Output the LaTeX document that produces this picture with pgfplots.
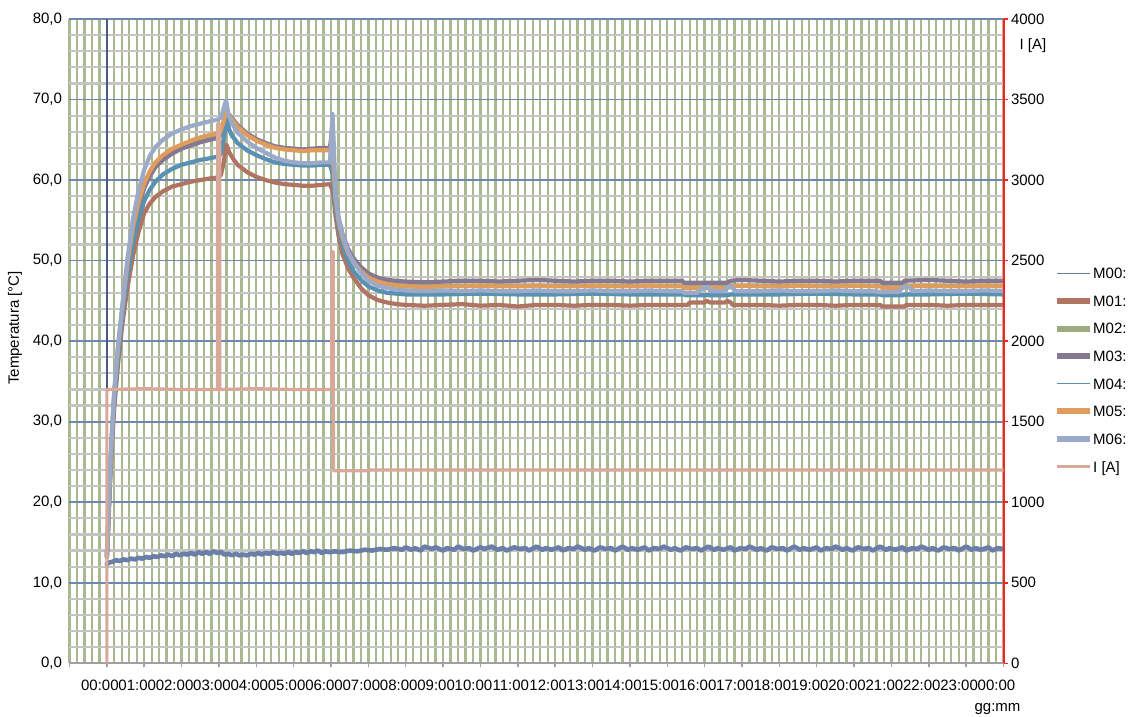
\documentclass[border=0pt]{standalone}
\usepackage{fontspec}
\setmainfont{Liberation Sans}
\usepackage{pgfplots}
\pgfplotsset{compat=1.18}

\definecolor{cM00}{HTML}{6A7EA8}
\definecolor{cM00leg}{HTML}{6B7896}
\definecolor{cM01}{HTML}{B07462}
\definecolor{cM02}{HTML}{9CAC80}
\definecolor{cM03}{HTML}{877891}
\definecolor{cM04}{HTML}{5A90B2}
\definecolor{cM05}{HTML}{E09C5C}
\definecolor{cM06}{HTML}{9AAAC8}
\definecolor{cI}{HTML}{D8A898}
\definecolor{gridgreen}{HTML}{AAB890}
\definecolor{gridgray}{HTML}{C4C4C4}
\definecolor{gridblue}{HTML}{7088B0}
\definecolor{zeroline}{HTML}{4A5A80}
\definecolor{axisgray}{HTML}{A0A0A0}
\definecolor{axisred}{HTML}{FF2020}

\newcommand{\tickfont}{\fontsize{15}{18}\selectfont}

\begin{document}
\begin{tikzpicture}
\useasboundingbox (-69.5pt,-52.7pt) rectangle (1058.5pt,663.3pt);

% temperatures (left axis)
\begin{axis}[
  at={(0pt,0pt)}, anchor=south west,
  scale only axis, width=934pt, height=644.3pt,
  xmin=-1, xmax=24, ymin=0, ymax=80,
  axis x line*=bottom, axis y line*=left,
  x axis line style={draw=axisgray, line width=2pt, -},
  y axis line style={draw=none, -},
  xtick={-1,0,...,24},
  xticklabels={,00:00,01:00,02:00,03:00,04:00,05:00,06:00,07:00,08:00,09:00,10:00,11:00,12:00,13:00,14:00,15:00,16:00,17:00,18:00,19:00,20:00,21:00,22:00,23:00,00:00},
  minor x tick num=4,
  ytick={0,10,...,80},
  yticklabels={{0,0},{10,0},{20,0},{30,0},{40,0},{50,0},{60,0},{70,0},{80,0}},
  minor y tick num=4,
  grid=both,
  major x grid style={gridgreen, line width=2.3pt},
  minor x grid style={gridgreen, line width=2.3pt},
  major y grid style={gridblue, line width=1.7pt},
  minor y grid style={gridgray, line width=2.2pt},
  tick align=outside,
  major tick length=4pt, minor tick length=0pt,
  xtick style={axisgray, line width=1.5pt},
  ytick style={draw=none},
  xticklabel style={font=\tickfont, anchor=base, xshift=-7pt, yshift=-23pt},
  yticklabel style={font=\tickfont},
  extra x ticks={0}, extra x tick labels={},
  extra x tick style={grid=major, major x grid style={zeroline, line width=2.4pt}, xtick style={draw=none}},
  xlabel={gg:mm},
  every axis x label/.style={at={(axis description cs:0.9936,-0.0745)}, anchor=base, font=\tickfont},
  ylabel={Temperatura [°C]},
  every axis y label/.style={at={(axis description cs:-0.0584,0.5204)}, anchor=center, rotate=90, font=\tickfont},
  every axis plot/.append style={line join=round, line cap=round},
]

% M00 ambient
\addplot[cM00, line width=4.6pt] coordinates {
(0.00,12.3)(0.05,12.5)(0.15,12.6)(0.25,12.8)(0.35,12.7)(0.45,12.9)(0.55,12.8)(0.65,13.0)(0.75,12.9)(0.85,13.1)
(0.95,13.0)(1.05,13.2)(1.15,13.1)(1.25,13.3)(1.35,13.2)(1.45,13.4)(1.55,13.3)(1.65,13.5)(1.75,13.3)(1.85,13.6)
(1.95,13.4)(2.05,13.6)(2.15,13.5)(2.25,13.7)(2.35,13.5)(2.45,13.8)(2.55,13.6)(2.65,13.8)(2.75,13.6)(2.85,13.9)
(2.95,13.7)(3.05,13.8)(3.15,13.5)(3.25,13.6)(3.35,13.4)(3.45,13.6)(3.55,13.4)(3.65,13.5)(3.75,13.4)(3.85,13.6)
(3.95,13.5)(4.05,13.7)(4.15,13.5)(4.25,13.7)(4.35,13.6)(4.45,13.8)(4.55,13.6)(4.65,13.7)(4.75,13.6)(4.85,13.8)
(4.95,13.6)(5.05,13.8)(5.15,13.7)(5.25,13.9)(5.35,13.7)(5.45,13.9)(5.55,13.8)(5.65,14.0)(5.75,13.7)(5.85,13.9)
(5.95,13.8)(6.10,13.9)(6.30,13.8)(6.50,14.0)(6.70,13.9)(6.90,14.1)(7.10,14.0)(7.30,14.2)(7.50,14.1)(7.70,14.3)
(7.90,14.1)(8.0,14.4)(8.15,14.1)(8.25,14.3)(8.4,14.0)(8.5,14.5)(8.7,14.2)(8.8,14.4)(9.0,14.0)(9.1,14.3)
(9.3,14.1)(9.4,14.5)(9.55,14.2)(9.7,14.3)(9.8,14.0)(10.0,14.4)(10.1,14.2)(10.3,14.5)(10.45,14.1)(10.6,14.3)
(10.7,14.0)(10.9,14.4)(11.05,14.2)(11.2,14.3)(11.3,14.0)(11.5,14.5)(11.65,14.1)(11.75,14.3)(11.9,14.1)(12.1,14.4)
(12.2,14.0)(12.35,14.3)(12.5,14.2)(12.6,14.5)(12.8,14.1)(12.9,14.3)(13.05,14.0)(13.2,14.4)(13.35,14.2)(13.5,14.3)
(13.6,14.0)(13.8,14.5)(13.95,14.1)(14.05,14.3)(14.2,14.1)(14.4,14.4)(14.5,14.0)(14.65,14.3)(14.8,14.2)(14.9,14.5)
(15.1,14.1)(15.2,14.3)(15.35,14.0)(15.5,14.4)(15.65,14.2)(15.8,14.3)(15.9,14.0)(16.1,14.5)(16.25,14.1)(16.35,14.3)
(16.5,14.1)(16.7,14.4)(16.8,14.0)(16.95,14.3)(17.1,14.2)(17.2,14.5)(17.4,14.1)(17.5,14.3)(17.65,14.0)(17.8,14.4)
(17.95,14.2)(18.1,14.3)(18.2,14.0)(18.4,14.5)(18.55,14.1)(18.65,14.3)(18.8,14.1)(19.0,14.4)(19.1,14.0)(19.25,14.3)
(19.4,14.2)(19.5,14.5)(19.7,14.1)(19.8,14.3)(19.95,14.0)(20.1,14.4)(20.25,14.2)(20.4,14.3)(20.5,14.0)(20.7,14.5)
(20.85,14.1)(20.95,14.3)(21.1,14.1)(21.3,14.4)(21.4,14.0)(21.55,14.3)(21.7,14.2)(21.8,14.5)(22.0,14.1)(22.1,14.3)
(22.25,14.0)(22.4,14.4)(22.55,14.2)(22.7,14.3)(22.8,14.0)(23.0,14.5)(23.15,14.1)(23.25,14.3)(23.4,14.1)(23.6,14.4)
(23.7,14.0)(23.85,14.3)(24.0,14.2)
};

% M01
\addplot[cM01, line width=4.2pt] coordinates {
(0,13.2)(0.03,16.0)(0.06,19.4)(0.1,23.8)(0.15,28.0)(0.2,31.8)(0.3,37.2)(0.42,42.3)(0.55,46.6)(0.7,50.6)
(0.85,53.6)(1.0,55.9)(1.15,57.1)(1.3,57.9)(1.5,58.6)(1.75,59.2)(2.0,59.5)(2.25,59.8)(2.5,60.0)(2.75,60.2)
(2.95,60.3)(3.05,60.6)(3.12,62.0)(3.2,64.4)(3.28,63.4)(3.4,62.5)(3.5,61.9)(3.75,61.0)(4.0,60.4)(4.25,60.0)
(4.5,59.7)(4.75,59.5)(5.0,59.4)(5.25,59.3)(5.5,59.3)(5.75,59.4)(5.97,59.5)(6.05,58.6)(6.12,55.6)(6.2,53.1)
(6.3,50.9)(6.45,49.1)(6.6,47.9)(6.8,46.6)(7.0,45.7)(7.25,45.1)(7.5,44.8)(7.75,44.6)(8.0,44.5)(8.5,44.4)
(9.0,44.5)(9.5,44.6)(10.0,44.4)(10.5,44.5)(11.0,44.3)(11.5,44.5)(12.0,44.5)(12.5,44.4)(13.0,44.5)(13.5,44.5)
(14.0,44.4)(14.5,44.5)(15.0,44.5)(15.55,44.5)(15.6,44.8)(16.0,44.8)(16.05,45.0)(16.15,44.8)(16.55,44.8)(16.6,45.0)
(16.7,44.8)(16.75,44.5)(17.5,44.5)(18.0,44.4)(18.5,44.5)(19.0,44.5)(19.5,44.4)(20.0,44.5)(20.5,44.5)(20.7,44.5)
(20.75,44.3)(21.35,44.3)(21.4,44.5)(22.0,44.5)(22.5,44.4)(23.0,44.5)(23.5,44.5)(24.0,44.5)
};

% M02
\addplot[cM02, line width=4.2pt] coordinates {
(0,13.2)(0.1,25.0)(0.2,33.5)(0.3,39.0)(0.42,44.2)(0.55,49.4)(0.7,53.9)(0.85,57.0)(1.0,59.3)(1.3,61.9)
(1.5,62.8)(2.0,64.1)(2.5,65.0)(2.95,65.5)(3.05,65.8)(3.2,68.4)(3.4,67.3)(3.75,65.7)(4.0,65.0)(4.5,64.1)
(5.0,63.8)(5.5,63.8)(5.97,63.8)(6.05,62.6)(6.12,57.9)(6.2,55.0)(6.3,53.0)(6.45,51.1)(6.6,49.9)(6.8,48.8)
(7.0,48.0)(7.5,47.2)(8.0,46.9)(12.0,46.9)(15.4,46.9)(15.45,46.7)(16.6,46.7)(16.7,46.9)(20.7,46.9)(20.75,46.7)
(21.3,46.7)(21.35,46.9)(24.0,46.9)
};

% M03
\addplot[cM03, line width=4.2pt] coordinates {
(0,13.2)(0.03,16.6)(0.06,20.4)(0.1,24.9)(0.15,29.4)(0.2,33.4)(0.3,38.8)(0.42,44.0)(0.55,49.1)(0.7,53.6)
(0.85,56.7)(1.0,59.0)(1.15,60.5)(1.3,61.6)(1.5,62.5)(1.75,63.3)(2.0,63.9)(2.25,64.3)(2.5,64.7)(2.75,65.0)
(2.95,65.2)(3.05,65.5)(3.12,66.8)(3.2,68.3)(3.28,68.1)(3.4,67.4)(3.5,66.8)(3.75,65.8)(4.0,65.1)(4.25,64.6)
(4.5,64.2)(4.75,64.0)(5.0,63.9)(5.25,63.8)(5.5,63.9)(5.75,64.0)(5.97,64.0)(6.01,65.5)(6.04,67.2)(6.07,62.5)
(6.12,58.2)(6.2,55.4)(6.3,53.4)(6.45,51.5)(6.6,50.3)(6.8,49.2)(7.0,48.4)(7.25,47.9)(7.5,47.6)(7.75,47.5)
(8.0,47.4)(8.5,47.3)(9.0,47.4)(9.5,47.5)(10.0,47.5)(10.5,47.4)(11.0,47.5)(11.5,47.6)(12.0,47.5)(12.5,47.4)
(13.0,47.5)(13.5,47.5)(14.0,47.4)(14.5,47.5)(15.0,47.5)(15.4,47.5)(15.45,47.25)(16.6,47.25)(16.7,47.5)(17.0,47.6)
(17.5,47.5)(18.0,47.4)(18.5,47.5)(19.0,47.5)(19.5,47.4)(20.0,47.5)(20.5,47.5)(20.7,47.5)(20.75,47.25)(21.3,47.25)
(21.35,47.5)(22.0,47.6)(22.5,47.5)(23.0,47.4)(23.5,47.5)(24.0,47.5)
};

% M04
\addplot[cM04, line width=4.2pt] coordinates {
(0,13.2)(0.03,16.4)(0.06,20.0)(0.1,24.5)(0.15,28.9)(0.2,32.8)(0.3,38.2)(0.42,43.3)(0.55,48.0)(0.7,52.1)
(0.85,55.2)(1.0,57.4)(1.15,58.8)(1.3,59.8)(1.5,60.7)(1.75,61.4)(2.0,61.9)(2.25,62.2)(2.5,62.5)(2.75,62.7)
(2.95,62.9)(3.05,63.2)(3.12,64.9)(3.21,67.5)(3.28,66.2)(3.35,65.5)(3.5,64.6)(3.75,63.7)(4.0,63.1)(4.25,62.6)
(4.5,62.2)(4.75,62.0)(5.0,61.9)(5.25,61.8)(5.5,61.8)(5.75,61.9)(5.97,61.9)(6.05,60.7)(6.12,56.7)(6.2,54.2)
(6.3,52.0)(6.45,50.0)(6.6,48.7)(6.8,47.6)(7.0,46.8)(7.25,46.3)(7.5,46.0)(7.75,45.9)(8.0,45.8)(9.0,45.8)
(10.0,45.9)(11.0,45.8)(12.0,45.8)(13.0,45.9)(14.0,45.8)(15.0,45.8)(15.45,45.8)(15.5,45.7)(16.6,45.7)(16.7,45.8)
(18.0,45.8)(19.0,45.9)(20.0,45.8)(20.7,45.8)(20.75,45.7)(21.3,45.7)(21.35,45.8)(22.0,45.8)(23.0,45.9)(24.0,45.8)
};

% M05
\addplot[cM05, line width=4.2pt] coordinates {
(0,13.2)(0.03,16.8)(0.06,20.7)(0.1,25.2)(0.15,29.7)(0.2,33.7)(0.3,39.2)(0.42,44.4)(0.55,49.6)(0.7,54.2)
(0.85,57.3)(1.0,59.6)(1.15,61.1)(1.3,62.2)(1.5,63.1)(1.75,63.9)(2.0,64.4)(2.25,64.9)(2.5,65.3)(2.75,65.6)
(2.95,65.8)(3.05,66.1)(3.12,67.2)(3.2,68.6)(3.28,68.0)(3.4,67.2)(3.5,66.6)(3.75,65.6)(4.0,64.9)(4.25,64.4)
(4.5,64.0)(4.75,63.8)(5.0,63.7)(5.25,63.6)(5.5,63.7)(5.75,63.7)(5.97,63.7)(6.05,62.6)(6.12,57.8)(6.2,54.9)
(6.3,52.9)(6.45,51.0)(6.6,49.8)(6.8,48.7)(7.0,47.9)(7.25,47.4)(7.5,47.1)(7.75,46.9)(8.0,46.8)(8.5,46.7)
(9.0,46.8)(9.5,46.8)(10.0,46.9)(10.5,46.8)(11.0,46.8)(11.5,46.9)(12.0,46.8)(12.5,46.8)(13.0,46.9)(13.5,46.8)
(14.0,46.8)(14.5,46.9)(15.0,46.8)(15.4,46.8)(15.45,46.6)(16.6,46.6)(16.7,46.8)(17.0,46.9)(17.5,46.8)(18.0,46.8)
(18.5,46.9)(19.0,46.8)(19.5,46.8)(20.0,46.9)(20.5,46.8)(20.7,46.8)(20.75,46.6)(21.3,46.6)(21.35,46.8)(22.0,46.9)
(22.5,46.8)(23.0,46.8)(23.5,46.9)(24.0,46.8)
};

% M06
\addplot[cM06, line width=4.2pt] coordinates {
(0,13.2)(0.03,17.0)(0.06,21.0)(0.1,25.5)(0.15,30.0)(0.2,34.0)(0.3,39.5)(0.42,44.7)(0.55,50.2)(0.7,55.2)
(0.85,58.7)(1.0,61.3)(1.15,63.0)(1.3,64.1)(1.5,65.0)(1.75,65.8)(2.0,66.3)(2.25,66.7)(2.5,67.0)(2.75,67.3)
(2.95,67.5)(3.05,67.7)(3.12,68.8)(3.19,69.9)(3.25,68.3)(3.35,67.0)(3.5,65.9)(3.75,64.8)(4.0,64.0)(4.25,63.4)
(4.5,62.8)(4.75,62.4)(5.0,62.2)(5.25,62.1)(5.5,62.1)(5.75,62.2)(5.97,62.2)(6.0,64.5)(6.04,68.2)(6.08,63.5)
(6.12,58.0)(6.2,55.3)(6.3,53.3)(6.45,51.2)(6.6,49.8)(6.8,48.5)(7.0,47.5)(7.25,46.9)(7.5,46.6)(7.75,46.4)
(8.0,46.3)(8.5,46.2)(9.0,46.3)(9.5,46.2)(10.0,46.3)(10.5,46.2)(11.0,46.2)(11.5,46.3)(12.0,46.2)(12.5,46.2)
(13.0,46.3)(13.5,46.2)(14.0,46.2)(14.5,46.3)(15.0,46.2)(15.4,46.2)(15.45,46.0)(15.8,46.0)(15.85,46.2)(16.0,46.7)
(16.1,46.7)(16.15,46.2)(16.55,46.2)(16.6,46.7)(16.75,46.7)(16.8,46.2)(17.5,46.2)(18.0,46.3)(18.5,46.2)(19.0,46.2)
(19.5,46.3)(20.0,46.2)(20.5,46.2)(20.7,46.1)(21.2,46.1)(21.3,46.7)(21.5,46.7)(21.55,46.2)(22.0,46.3)(22.5,46.2)
(23.0,46.2)(23.5,46.3)(24.0,46.2)
};
\end{axis}

% current (right axis)
\begin{axis}[
  at={(0pt,0pt)}, anchor=south west,
  scale only axis, width=934pt, height=644.3pt,
  xmin=-1, xmax=24, ymin=0, ymax=4000,
  clip=false,
  axis x line=none, axis y line*=right,
  y axis line style={draw=axisred, line width=2pt, -},
  ytick={0,500,...,4000},
  yticklabels={0,500,1000,1500,2000,2500,3000,3500,4000},
  tick align=outside, major tick length=4pt,
  ytick style={axisred, line width=1.5pt},
  yticklabel style={font=\tickfont},
  legend style={at={(axis description cs:1.0543,0.6136)}, anchor=north west,
    draw=none, fill=none, inner sep=0pt, outer sep=0pt,
    font=\tickfont, row sep=16.93pt, column sep=0pt,
    nodes={inner sep=0pt, text height=10.7pt, text depth=0pt}},
  legend cell align=left,
  legend image code/.code={\draw[#1] (0pt,0pt) -- (33pt,0pt);},
]
\addlegendimage{cM00leg, line width=1.2pt}
\addlegendentry{M00:}
\addlegendimage{cM01, line width=6pt}
\addlegendentry{M01:}
\addlegendimage{cM02, line width=6pt}
\addlegendentry{M02:}
\addlegendimage{cM03, line width=6pt}
\addlegendentry{M03:}
\addlegendimage{cM04, line width=1.2pt}
\addlegendentry{M04:}
\addlegendimage{cM05, line width=6pt}
\addlegendentry{M05:}
\addlegendimage{cM06, line width=6pt}
\addlegendentry{M06:}
\addplot[cI, line width=3.2pt, line join=round] coordinates {
(0,0)(0,1700)(1.0,1705)(2.0,1700)(2.96,1700)(2.965,3350)(3.02,3350)(3.025,1700)(4.0,1705)(5.0,1700)
(6.02,1700)(6.025,2555)(6.06,2555)(6.065,1195)(7.0,1195)(7.05,1200)(24,1200)
};
\addlegendentry{I [A]}
\node[anchor=west, xshift=12.5pt, font=\tickfont] at (rel axis cs:1,0.958) {I [A]};
\end{axis}
\end{tikzpicture}
\end{document}
